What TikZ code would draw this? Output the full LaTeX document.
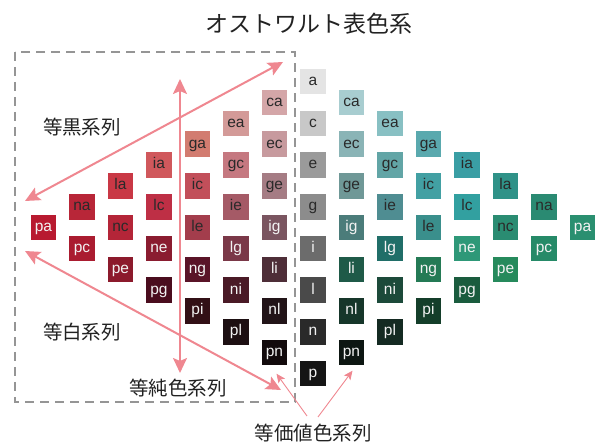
\documentclass[tikz,border=0pt]{standalone}
\usepackage{fontspec}
\setmainfont{Liberation Sans}
\newfontfamily\jp{Noto Sans CJK JP}
\usetikzlibrary{arrows.meta}
\definecolor{arrowpink}{HTML}{EF8790}
\definecolor{dk}{HTML}{2A2A2A}
\definecolor{wt}{HTML}{F2F2F2}
\definecolor{dashgrey}{HTML}{959595}
\definecolor{labeltext}{HTML}{222222}
\tikzset{
  box/.style={minimum width=25.5pt, minimum height=25.5pt, inner sep=0pt,
    font=\fontsize{15.5}{15.5}\selectfont, text height=11pt, text depth=3.2pt},
  bigarrow/.style={draw=arrowpink, line width=2pt,
    {Stealth[length=15pt,width=14pt,inset=3pt]}-{Stealth[length=15pt,width=14pt,inset=3pt]}},
  thinarrow/.style={draw=arrowpink, line width=0.9pt, -{Stealth[length=9pt,width=8pt,inset=2pt]}},
  lbltext/.style={text=labeltext, font=\jp\fontsize{19.5}{20}\selectfont, inner sep=0pt},
  titletext/.style={text=labeltext, font=\jp\fontsize{23}{24}\selectfont, inner sep=0pt},
  dashframe/.style={draw=dashgrey, line width=1.6pt, dash pattern=on 9pt off 6pt}
}
\begin{document}
\begin{tikzpicture}[x=1pt,y=-1pt]
\useasboundingbox (0,0) rectangle (598,443);

% title
\node[titletext] (title) at (309,24) {オストワルト表色系};

% dashed frame
\draw[dashframe] (15,52) rectangle (295,402);

% grey column
\foreach \kk/\lbl/\cc/\tc in {0/a/E4E4E4/dk,1/c/C8C8C8/dk,2/e/9A9A9A/dk,3/g/8C8C8C/dk,
  4/i/6C6C6C/wt,5/l/4A4A4A/wt,6/n/2A2A2A/wt,7/p/151515/wt}{
  \definecolor{boxc}{HTML}{\cc}
  \node[box, fill=boxc, text=\tc] (G\lbl) at (313,{81.7+41.7*\kk}) {\lbl};
}

% left (red) side
\foreach \jj/\kk/\lbl/\cc/\tc in {
  1/0/ca/D4A6A8/dk,1/1/ec/C79A9E/dk,1/2/ge/A57C84/dk,1/3/ig/7A5560/wt,1/4/li/4E2E38/wt,1/5/nl/221418/wt,1/6/pn/120A0C/wt,
  2/0/ea/D39A98/dk,2/1/gc/C57880/dk,2/2/ie/A55A66/dk,2/3/lg/7A3848/wt,2/4/ni/4A1A26/wt,2/5/pl/1D0F12/wt,
  3/0/ga/D27C70/dk,3/1/ic/C24F5A/dk,3/2/le/A33D4C/dk,3/3/ng/5A1428/wt,3/4/pi/321016/wt,
  4/0/ia/D0585C/dk,4/1/lc/BE2F45/dk,4/2/ne/8A1C30/wt,4/3/pg/4A0D1E/wt,
  5/0/la/C93845/dk,5/1/nc/B42538/dk,5/2/pe/8C1A2C/wt,
  6/0/na/B82638/dk,6/1/pc/AA1C30/wt,
  7/0/pa/B81A30/wt}{
  \definecolor{boxc}{HTML}{\cc}
  \node[box, fill=boxc, text=\tc] (L\lbl) at ({313-38.5*\jj},{81.7+41.7*(\jj/2+\kk)}) {\lbl};
}

% right (green) side
\foreach \jj/\kk/\lbl/\cc/\tc in {
  1/0/ca/A8CDD0/dk,1/1/ec/8AB4B6/dk,1/2/ge/6F9897/dk,1/3/ig/4B7C7A/wt,1/4/li/1F5A48/wt,1/5/nl/16362A/wt,1/6/pn/0D1612/wt,
  2/0/ea/88C0C3/dk,2/1/gc/62A5A6/dk,2/2/ie/4F8D92/dk,2/3/lg/206E68/wt,2/4/ni/1C4A3A/wt,2/5/pl/142A22/wt,
  3/0/ga/5AA9AE/dk,3/1/ic/42A0A3/dk,3/2/le/3A8F8C/dk,3/3/ng/247A55/wt,3/4/pi/143E2A/wt,
  4/0/ia/3A9EA4/dk,4/1/lc/32A0A0/dk,4/2/ne/2E9878/wt,4/3/pg/1A5C3E/wt,
  5/0/la/2F9288/dk,5/1/nc/2A8C72/dk,5/2/pe/268A5C/wt,
  6/0/na/2A8A72/dk,6/1/pc/268A68/wt,
  7/0/pa/2A8F70/wt}{
  \definecolor{boxc}{HTML}{\cc}
  \node[box, fill=boxc, text=\tc] (R\lbl) at ({313+38.5*\jj},{81.7+41.7*(\jj/2+\kk)}) {\lbl};
}

% labels
\node[lbltext] (blk) at (82,127) {等黒系列};
\node[lbltext] (wht) at (82,332) {等白系列};
\node[lbltext] (pure) at (178,388) {等純色系列};
\node[lbltext] (eqv) at (313,433) {等価値色系列};

% big arrows
\coordinate (blkL) at (25,201);
\coordinate (blkR) at (283,62);
\coordinate (whtL) at (25,251);
\coordinate (whtR) at (281,390);
\coordinate (pureT) at (180,79);
\coordinate (pureB) at (180,373);
\draw[bigarrow] (blkL) -- (blkR);
\draw[bigarrow] (whtL) -- (whtR);
\draw[bigarrow] (pureT) -- (pureB);

% equal-value arrows
\coordinate (eqvA) at (307,416);
\coordinate (eqvB) at (318,417);
\draw[thinarrow] (eqvA) -- ([shift={(2,8)}]Lpn.south);
\draw[thinarrow] (eqvB) -- ([shift={(1,5)}]Rpn.south);
\end{tikzpicture}
\end{document}
